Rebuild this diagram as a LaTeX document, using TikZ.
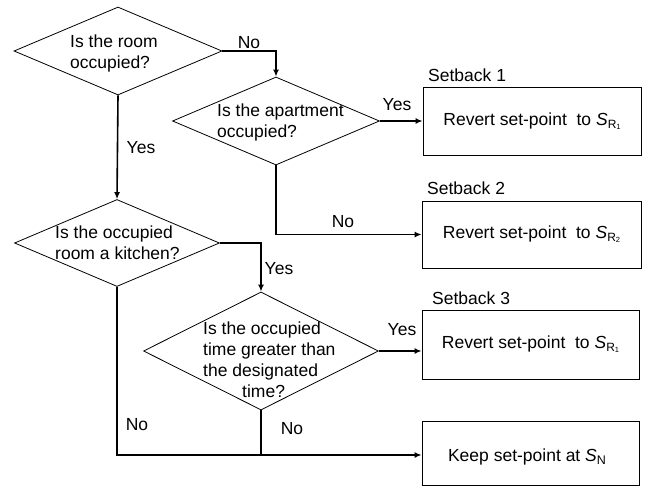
\documentclass[tikz,border=0pt]{standalone}
\usepackage{fontspec}
\setmainfont{Liberation Sans}
\usetikzlibrary{shapes.geometric,arrows.meta}
\newcommand{\mySR}[1]{\textit{S}\raisebox{-0.35ex}{\fontsize{12}{12}\selectfont R\raisebox{-0.15ex}{\fontsize{7.5}{7.5}\selectfont #1}}}
\newcommand{\mySN}{\textit{S}\raisebox{-0.35ex}{\fontsize{12.5}{12.5}\selectfont N}}
\begin{document}
\begin{tikzpicture}[x=1pt,y=-1pt,
  font=\fontsize{17.5}{21}\selectfont,
  dia/.style={draw,diamond,inner sep=0pt,line width=0.8pt},
  box/.style={draw,rectangle,inner sep=0pt,line width=0.8pt},
  txt/.style={inner sep=0pt,align=left,anchor=west},
  lbl/.style={inner sep=0pt},
  conn/.style={line width=1.6pt,-{Latex[length=7pt,width=6pt]}},
  plainline/.style={line width=1.6pt}]
\useasboundingbox (0,0) rectangle (648,487);
% diamonds
\node[dia,minimum width=208pt,minimum height=88pt] (d1) at (118,51) {};
\node[dia,minimum width=207pt,minimum height=88pt] (d2) at (276,121) {};
\node[dia,minimum width=205pt,minimum height=87pt] (d3) at (117,243) {};
\node[dia,minimum width=235pt,minimum height=118pt] (d4) at (261,351) {};
\node[txt] (t1) at (70,53) {Is the room\\occupied?};
\node[txt] (t2) at (217,122) {Is the apartment\\occupied?};
\node[txt] (t3) at (55,243) {Is the occupied\\room a kitchen?};
\node[txt] (t4) at (203,360) {Is the occupied\\time greater than\\the designated\\\hspace*{39pt}time?};
% boxes
\node[box,minimum width=218pt,minimum height=68pt] (b1) at (532,121) {Revert set-point\ \ to \mySR{1}};
\node[box,minimum width=219pt,minimum height=67pt] (b2) at (531.5,234.5) {Revert set-point\ \ to \mySR{2}};
\node[box,minimum width=217pt,minimum height=69pt] (b3) at (530.5,344.5) {Revert set-point\ \ to \mySR{1}};
\node[box,minimum width=217pt,minimum height=64pt] (b4) at (530.5,453) {};
\node[lbl] (t5) at (527,457) {Keep set-point at \mySN};
% setback labels
\node[lbl,anchor=west] (s1) at (428,75) {Setback 1};
\node[lbl,anchor=west] (s2) at (427,188) {Setback 2};
\node[lbl,anchor=west] (s3) at (432,298) {Setback 3};
% connectors
\draw[conn] (d1.east) -| (d2.north);
\draw[conn] (d1.south) -- (d3.north);
\draw[conn] (d2.east) -- (d2.east -| b1.west);
\draw[conn] (d2.south) |- (b2.west);
\draw[conn] (d3.east) -| (d4.north);
\draw[conn] (d4.east) -- (d4.east -| b3.west);
\coordinate (c1) at (117,455);
\draw[conn] (d3.south) -- (c1) -- (c1 -| b4.west);
\draw[plainline] (d4.south) -- (d4.south |- c1);
% branch labels
\node[lbl] (n1) at (249,43) {No};
\node[lbl] (y1) at (141,148) {Yes};
\node[lbl] (y2) at (397,105) {Yes};
\node[lbl] (n2) at (343,222) {No};
\node[lbl] (y3) at (279,269) {Yes};
\node[lbl] (y4) at (402,330) {Yes};
\node[lbl] (n3) at (137,425) {No};
\node[lbl] (n4) at (292,429) {No};
\end{tikzpicture}
\end{document}
